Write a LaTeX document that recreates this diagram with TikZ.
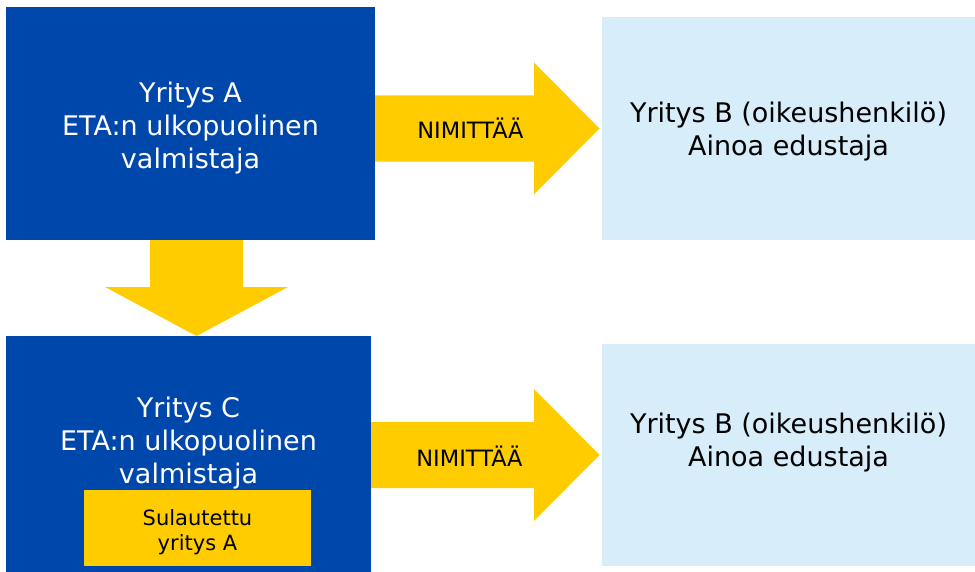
\documentclass[tikz,border=0pt]{standalone}
\usepackage{fontspec}
\setmainfont{DejaVu Sans}
\usetikzlibrary{calc}

\definecolor{euBlue}{HTML}{0047AB}
\definecolor{euYellow}{HTML}{FFCC00}
\definecolor{euLight}{HTML}{D7EDF9}

\tikzset{
  box/.style={anchor=north west, inner sep=0pt, outer sep=0pt},
  maker/.style={box, fill=euBlue},
  agent/.style={box, fill=euLight},
  merged/.style={box, fill=euYellow},
  bigtext/.style={align=center, inner sep=0pt, font=\fontsize{27bp}{33bp}\selectfont},
  smalltext/.style={align=center, inner sep=0pt, font=\fontsize{21bp}{25bp}\selectfont},
  verbtext/.style={inner sep=0pt, font=\fontsize{22.5bp}{25bp}\selectfont},
  pointer/.style={fill=euYellow}
}

\begin{document}
\begin{tikzpicture}[x=1bp, y=-1bp]
\useasboundingbox (0,0) rectangle (975,572);

% boxes
\node[maker, minimum width=369bp, minimum height=233bp] (A) at (6,7) {};
\node[agent, minimum width=373bp, minimum height=223bp] (B1) at (602,17) {};
\node[maker, minimum width=365bp, minimum height=236bp] (C) at (6,336) {};
\node[agent, minimum width=373bp, minimum height=222bp] (B2) at (602,344) {};
\node[merged, minimum width=227bp, minimum height=76bp] (M) at (84,490) {};

% arrows
\foreach \from/\to in {A/B1, C/B2}
  \fill[pointer] ($(\from.east|-\to.west)+(0,-33)$) -- ($(\to.west)+(-68,-33)$)
    -- ($(\to.west)+(-68,-66)$) -- ($(\to.west)+(-2.5,0)$) -- ($(\to.west)+(-68,66)$)
    -- ($(\to.west)+(-68,33)$) -- ($(\from.east|-\to.west)+(0,33)$) -- cycle;
\coordinate (tip) at ($(A.south)+(6,0)$);
\fill[pointer] ($(A.south)+(-40.5,0)$) -- ($(A.south)+(52.5,0)$) -- ($(A.south)+(52.5,47)$)
  -- ($(A.south)+(97.5,47)$) -- (tip |- C.north)
  -- ($(A.south)+(-85.5,47)$) -- ($(A.south)+(-40.5,47)$) -- cycle;

% labels
\node[bigtext, text=white] (Atext) at ($(A.center)+(0,5)$) {Yritys A\\ETA:n ulkopuolinen\\valmistaja};
\node[bigtext] (B1text) at ($(B1.center)+(0,3)$) {Yritys B (oikeushenkilö)\\Ainoa edustaja};
\node[bigtext, text=white] (Ctext) at ($(C.center)+(0,-10.5)$) {Yritys C\\ETA:n ulkopuolinen\\valmistaja};
\node[bigtext] (B2text) at ($(B2.center)+(0,-12.5)$) {Yritys B (oikeushenkilö)\\Ainoa edustaja};
\node[smalltext] (Mtext) at ($(M.center)+(0,4)$) {Sulautettu\\yritys A};
\node[verbtext] (nim1) at ($(B1.west)+(-131.5,0)$) {NIMITTÄÄ};
\node[verbtext] (nim2) at ($(B2.west)+(-132.5,1)$) {NIMITTÄÄ};
\end{tikzpicture}
\end{document}
